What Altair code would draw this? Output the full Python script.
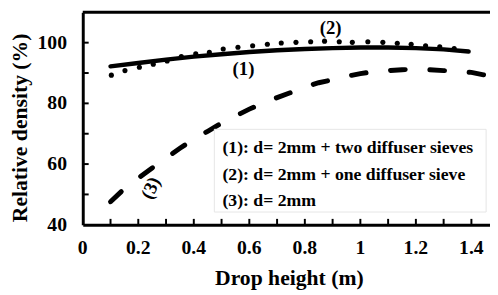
import altair as alt
import pandas as pd

# ---- data ----
x_two = [0.1, 0.2, 0.3, 0.4, 0.5, 0.6, 0.7, 0.8, 0.9, 1.0, 1.1, 1.2, 1.3, 1.39]
y_two = [92.2, 93.3, 94.4, 95.4, 96.2, 96.9, 97.5, 97.9, 98.2, 98.4, 98.4, 98.2, 97.8, 97.1]

x_one = [0.103, 0.152, 0.204, 0.254, 0.304, 0.355, 0.407, 0.456, 0.506, 0.559, 0.612,
         0.665, 0.715, 0.768, 0.821, 0.871, 0.924, 0.971, 1.027, 1.081, 1.133, 1.183,
         1.235, 1.286, 1.338]
y_one = [89.3, 90.8, 91.9, 92.9, 94.0, 95.4, 96.3, 96.8, 97.9, 98.5, 99.0, 99.5, 99.9,
         100.1, 100.3, 100.5, 100.3, 100.1, 100.3, 100.1, 99.8, 99.5, 99.0, 98.6, 98.1]

x_none = [0.1, 0.15, 0.2, 0.25, 0.3, 0.35, 0.4, 0.45, 0.5, 0.55, 0.6, 0.65, 0.7, 0.75,
          0.8, 0.85, 0.9, 0.95, 1.0, 1.05, 1.1, 1.15, 1.2, 1.25, 1.3, 1.35, 1.4, 1.45]
y_none = [47.6, 51.9, 55.4, 58.7, 62.0, 65.2, 68.2, 70.8, 73.5, 75.8, 78.1, 80.2, 81.9,
          83.6, 85.4, 86.8, 87.8, 88.9, 89.8, 90.5, 90.8, 91.1, 91.2, 91.1, 90.8, 90.6,
          90.2, 89.3]

x_label_ticks = [0, 0.2, 0.4, 0.6, 0.8, 1.0, 1.2, 1.4]
x_label_text = ["0", "0.2", "0.4", "0.6", "0.8", "1", "1.2", "1.4"]
x_minor_ticks = [0.1, 0.2, 0.3, 0.4, 0.5, 0.6, 0.7, 0.8, 0.9, 1.0, 1.1, 1.2, 1.3, 1.4]
y_label_ticks = [40, 60, 80, 100]
y_label_text = ["40", "60", "80", "100"]
y_minor_ticks = [50, 60, 70, 80, 90, 100]

x_title = ["Drop height (m)"]
y_title = ["Relative density (%)"]

curve_labels = ["(1)", "(2)", "(3)"]
curve_label_x = [0.579, 0.893, 0.245]
curve_label_y = [91.2, 104.9, 52.1]

legend_lines = ["(1): d= 2mm + two diffuser sieves",
                "(2): d= 2mm + one diffuser sieve",
                "(3): d= 2mm"]
legend_x = [0.503, 0.503, 0.503]
legend_y = [65.4, 56.5, 47.9]
legend_box_x = [0.474]
legend_box_x2 = [1.453]
legend_box_y = [71.45]
legend_box_y2 = [44.2]

X_DOMAIN = [0, 1.467]
Y_DOMAIN = [40, 110]
W = 414
H = 216
FONT = "'Liberation Serif', 'Times New Roman', 'DejaVu Serif', serif"

df_two = pd.DataFrame({"x": x_two, "y": y_two})
df_one = pd.DataFrame({"x": x_one, "y": y_one})
df_none = pd.DataFrame({"x": x_none, "y": y_none})
df_lab = pd.DataFrame({"x": curve_label_x, "y": curve_label_y, "t": curve_labels})
df_leg = pd.DataFrame({"x": legend_x, "y": legend_y, "t": legend_lines})
df_box = pd.DataFrame({"x": legend_box_x, "x2": legend_box_x2,
                       "y": legend_box_y, "y2": legend_box_y2})
df_xt = pd.DataFrame({"x": x_minor_ticks})
df_yt = pd.DataFrame({"y": y_minor_ticks})
df_xl = pd.DataFrame({"x": x_label_ticks, "t": x_label_text})
df_yl = pd.DataFrame({"y": y_label_ticks, "t": y_label_text})
df_xtitle = pd.DataFrame({"t": x_title})
df_ytitle = pd.DataFrame({"t": y_title})

xs = alt.Scale(domain=X_DOMAIN, nice=False, zero=False)
ys = alt.Scale(domain=Y_DOMAIN, nice=False, zero=False)

x_axis = alt.Axis(orient="bottom", labels=False, ticks=False, grid=False,
                  domainColor="black", domainWidth=3, title=None)
y_axis = alt.Axis(orient="left", labels=False, ticks=False, grid=False,
                  domainColor="black", domainWidth=3, title=None)

X = alt.X("x:Q", scale=xs, axis=x_axis)
Y = alt.Y("y:Q", scale=ys, axis=y_axis)

txt = dict(font=FONT, fontWeight="bold", color="black")

solid = alt.Chart(df_two).mark_line(color="black", strokeWidth=4.5, strokeCap="round").encode(
    x=X, y=Y)

dashed = alt.Chart(df_none).mark_line(color="black", strokeWidth=5, strokeCap="round",
                                      strokeDash=[15, 25]).encode(x=X, y=Y)

dots = alt.Chart(df_one).mark_circle(color="black", size=27, opacity=1).encode(x=X, y=Y)

# inward ticks
xticks = alt.Chart(df_xt).mark_rule(color="black", strokeWidth=2).encode(
    x=X, y=alt.value(H), y2=alt.value(H - 6))
yticks = alt.Chart(df_yt).mark_rule(color="black", strokeWidth=2).encode(
    y=Y, x=alt.value(0), x2=alt.value(6))

# tick labels
xlabels = alt.Chart(df_xl).mark_text(fontSize=20, align="center", baseline="alphabetic",
                                     **txt).encode(x=X, y=alt.value(H + 30), text="t:N")
ylabels = alt.Chart(df_yl).mark_text(fontSize=20, align="right", baseline="middle",
                                     **txt).encode(y=Y, x=alt.value(-16), text="t:N")

# axis titles
xtitle = alt.Chart(df_xtitle).mark_text(fontSize=22, align="center", baseline="alphabetic",
                                        **txt).encode(x=alt.value(210), y=alt.value(H + 61),
                                                      text="t:N")
ytitle = alt.Chart(df_ytitle).mark_text(fontSize=22, align="center", baseline="alphabetic",
                                        angle=270, **txt).encode(
    x=alt.value(-57), y=alt.value(117.5), text="t:N")

box = alt.Chart(df_box).mark_rect(fill="white", stroke="#e6e6e6", strokeWidth=1).encode(
    x=X, x2="x2:Q", y=Y, y2="y2:Q")

legend_text = alt.Chart(df_leg).mark_text(
    fontSize=18, align="left", baseline="middle", **txt).encode(x=X, y=Y, text="t:N")

lab12 = alt.Chart(df_lab.iloc[:2]).mark_text(
    fontSize=19, align="center", baseline="middle", **txt).encode(x=X, y=Y, text="t:N")

lab3 = alt.Chart(df_lab.iloc[2:]).mark_text(
    fontSize=19, align="center", baseline="middle", angle=295, **txt).encode(
    x=X, y=Y, text="t:N")

top_border = alt.Chart(df_box).mark_rule(color="black", strokeWidth=3).encode(
    x=alt.value(0), x2=alt.value(W), y=alt.value(0))

chart = alt.layer(
    solid, dashed, xticks, yticks, box, legend_text, dots, lab12, lab3, top_border,
    xlabels, ylabels, xtitle, ytitle
).properties(
    width=W, height=H,
    autosize=alt.AutoSizeParams(type="none"),
    padding={"left": 76, "top": 2, "right": 0, "bottom": 69},
    background="white",
).configure_view(stroke=None)

chart.save("out.html", embed_options={"renderer": "svg", "actions": False})
